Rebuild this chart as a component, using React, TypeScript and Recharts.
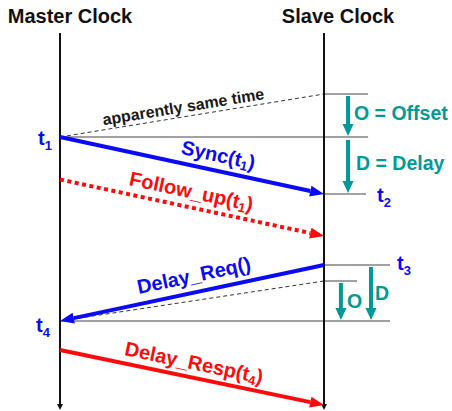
import { ComposedChart, XAxis, YAxis, ReferenceLine, ReferenceDot } from 'recharts';

// lanes (x) and time (y, arbitrary units, growing downwards)
const MASTER = 0;
const SLAVE = 1;
const LANE_DOMAIN: [number, number] = [-0.2273, 1.4848];
const TIME_DOMAIN: [number, number] = [0, 41.1];

const LANES = [MASTER, SLAVE];
const LANE_TITLES = ['Master Clock', 'Slave Clock'];
const LIFELINE_START = 3.3;
const LIFELINE_END = 41.0;

// PTP messages
const MSG_NAMES = ['Sync', 'Follow_up', 'Delay_Req', 'Delay_Resp'];
const MSG_ARG = ['1', '1', '', '4'];
const MSG_FROM = [MASTER, MASTER, SLAVE, MASTER];
const MSG_TO = [SLAVE, SLAVE, MASTER, SLAVE];
const MSG_SENT = [13.7, 17.95, 26.5, 35.0];
const MSG_RECEIVED = [19.4, 23.6, 32.1, 40.5];

// timestamps
const TS_INDEX = ['1', '2', '3', '4'];
const TS_LANE = [MASTER, SLAVE, SLAVE, MASTER];
const TS_TIME = [13.7, 19.4, 26.5, 32.1];

// thin horizontal rules
const RULE_TIME = [9.4, 13.7, 19.4, 26.5, 28.1, 32.1];
const RULE_FROM = [SLAVE, MASTER, SLAVE, SLAVE, SLAVE, MASTER];
const RULE_TO = [1.167, 1.167, 1.159, 1.25, 1.125, 1.25];

// "apparently same time" dashed lines
const APPARENT_FROM_LANE = [MASTER, SLAVE];
const APPARENT_FROM_TIME = [13.7, 28.1];
const APPARENT_TO_LANE = [SLAVE, MASTER];
const APPARENT_TO_TIME = [9.4, 32.1];
const APPARENT_LABEL = ['apparently same time', ''];

// offset / delay intervals
const INTERVAL_LABELS = ['O = Offset', 'D = Delay', 'O', 'D'];
const INTERVAL_LANE = [1.091, 1.091, 1.064, 1.178];
const INTERVAL_START = [9.6, 14.0, 28.3, 26.7];
const INTERVAL_END = [13.6, 19.3, 32.0, 32.0];

// styles
const FONT = "'Liberation Sans', Arial, Helvetica, sans-serif";
const BLUE = '#0a0af5';
const RED = '#ff0a0a';
const TEAL = '#009a96';
const MSG_COLOR = [BLUE, RED, BLUE, RED];
const MSG_DASH = ['', '4 3.5', '', ''];
const MSG_LABEL_AT = [0.587, 0.485, 0.52, 0.496];
const MSG_LABEL_OFFSET = [16, 16, 17, 15];
const TS_DX = [-8, 53, 73, -10];
const TS_DY = [8, 8, 5, 11];
const TS_ANCHOR = ['end', 'start', 'start', 'end'];
const TITLE_DX = [10, 14];
const INTERVAL_DX = [6, 8, 6, 4];
const INTERVAL_DY = [-3, -4, -1, -1];

function head(x1: number, y1: number, x2: number, y2: number, len: number, width: number) {
  const d = Math.hypot(x2 - x1, y2 - y1) || 1;
  const ux = (x2 - x1) / d;
  const uy = (y2 - y1) / d;
  const bx = x2 - ux * len;
  const by = y2 - uy * len;
  const px = -uy * width / 2;
  const py = ux * width / 2;
  return {
    bx,
    by,
    points: `${x2},${y2} ${bx + px},${by + py} ${bx - px},${by - py}`,
  };
}

function Arrow(props: any) {
  const { x1, y1, x2, y2, color, width, headLen, headWidth, dash } = props;
  const h = head(x1, y1, x2, y2, headLen, headWidth);
  return (
    <g>
      <line x1={x1} y1={y1} x2={h.bx} y2={h.by} stroke={color} strokeWidth={width} strokeDasharray={dash || undefined} />
      <polygon points={h.points} fill={color} />
    </g>
  );
}

function Label({ name, arg }: { name: string; arg: string }) {
  if (!arg) return <>{name}()</>;
  return (
    <>
      {name}(t
      <tspan dy={5} fontSize="0.65em">{arg}</tspan>
      <tspan dy={-5}>)</tspan>
    </>
  );
}

function MessageShape(props: any) {
  const { x1, y1, x2, y2, i } = props;
  const lx1 = MSG_FROM[i] === MASTER ? x1 : x2;
  const ly1 = MSG_FROM[i] === MASTER ? y1 : y2;
  const lx2 = MSG_FROM[i] === MASTER ? x2 : x1;
  const ly2 = MSG_FROM[i] === MASTER ? y2 : y1;
  const dx = lx2 - lx1;
  const dy = ly2 - ly1;
  const d = Math.hypot(dx, dy) || 1;
  const t = MSG_LABEL_AT[i];
  const off = MSG_LABEL_OFFSET[i];
  const nx = dy / d;
  const ny = -dx / d;
  const cx = lx1 + dx * t + nx * off;
  const cy = ly1 + dy * t + ny * off;
  const angle = (Math.atan2(dy, dx) * 180) / Math.PI;
  return (
    <g>
      <Arrow x1={x1} y1={y1} x2={x2} y2={y2} color={MSG_COLOR[i]} width={4} headLen={14} headWidth={11} dash={MSG_DASH[i]} />
      <text
        x={cx}
        y={cy}
        transform={`rotate(${angle} ${cx} ${cy})`}
        textAnchor="middle"
        dominantBaseline="central"
        fill={MSG_COLOR[i]}
        fontFamily={FONT}
        fontWeight="bold"
        fontSize={20}
      >
        <Label name={MSG_NAMES[i]} arg={MSG_ARG[i]} />
      </text>
    </g>
  );
}

function ApparentShape(props: any) {
  const { x1, y1, x2, y2, i } = props;
  const lx1 = Math.min(x1, x2) === x1 ? x1 : x2;
  const ly1 = lx1 === x1 ? y1 : y2;
  const lx2 = lx1 === x1 ? x2 : x1;
  const ly2 = lx1 === x1 ? y2 : y1;
  const dx = lx2 - lx1;
  const dy = ly2 - ly1;
  const d = Math.hypot(dx, dy) || 1;
  const cx = lx1 + dx * 0.473 + (dy / d) * 10;
  const cy = ly1 + dy * 0.473 + (-dx / d) * 10;
  const angle = (Math.atan2(dy, dx) * 180) / Math.PI;
  return (
    <g>
      <line x1={x1} y1={y1} x2={x2} y2={y2} stroke="#333" strokeWidth={1} strokeDasharray="4 3" />
      {APPARENT_LABEL[i] && (
        <text
          x={cx}
          y={cy}
          transform={`rotate(${angle} ${cx} ${cy})`}
          textAnchor="middle"
          dominantBaseline="central"
          fill="#1a1a1a"
          fontFamily={FONT}
          fontWeight="bold"
          fontSize={16}
        >
          {APPARENT_LABEL[i]}
        </text>
      )}
    </g>
  );
}

function LifelineShape(props: any) {
  const { x1, y1, x2, y2, i } = props;
  return (
    <g>
      <Arrow x1={x1} y1={y1} x2={x2} y2={y2} color="#111" width={2} headLen={6} headWidth={6} />
      <text
        x={x1 + TITLE_DX[i]}
        y={Math.min(y1, y2) - 10}
        textAnchor="middle"
        fill="#111"
        fontFamily={FONT}
        fontWeight="bold"
        fontSize={20}
      >
        {LANE_TITLES[i]}
      </text>
    </g>
  );
}

function IntervalShape(props: any) {
  const { x1, y1, x2, y2, i } = props;
  return (
    <g>
      <Arrow x1={x1} y1={y1} x2={x2} y2={y2} color={TEAL} width={4} headLen={12} headWidth={11} />
      <text
        x={x1 + INTERVAL_DX[i]}
        y={(y1 + y2) / 2 + INTERVAL_DY[i]}
        dominantBaseline="central"
        fill={TEAL}
        fontFamily={FONT}
        fontWeight="bold"
        fontSize={19.5}
      >
        {INTERVAL_LABELS[i]}
      </text>
    </g>
  );
}

function StampShape(props: any) {
  const { cx, cy, i } = props;
  return (
    <text
      x={cx + TS_DX[i]}
      y={cy + TS_DY[i]}
      textAnchor={TS_ANCHOR[i]}
      fill={BLUE}
      fontFamily={FONT}
      fontWeight="bold"
      fontSize={20}
    >
      t<tspan dy={5} fontSize={13}>{TS_INDEX[i]}</tspan>
    </text>
  );
}

export default function App() {
  return (
    <div style={{ position: 'absolute', left: 0, top: 0, background: '#fff' }}>
      <ComposedChart width={452} height={411} margin={{ top: 0, right: 0, bottom: 0, left: 0 }}>
        <XAxis type="number" dataKey="x" domain={LANE_DOMAIN} allowDataOverflow hide />
        <YAxis type="number" dataKey="y" domain={TIME_DOMAIN} allowDataOverflow reversed hide />

        {RULE_TIME.map((t, i) => (
          <ReferenceLine
            key={`rule-${i}`}
            segment={[{ x: RULE_FROM[i], y: t }, { x: RULE_TO[i], y: t }]}
            stroke="#444"
            strokeWidth={1}
            ifOverflow="visible"
          />
        ))}

        {APPARENT_FROM_TIME.map((t, i) => (
          <ReferenceLine
            key={`app-${i}`}
            segment={[{ x: APPARENT_FROM_LANE[i], y: t }, { x: APPARENT_TO_LANE[i], y: APPARENT_TO_TIME[i] }]}
            ifOverflow="visible"
            shape={(p: any) => <ApparentShape {...p} i={i} />}
          />
        ))}

        {LANES.map((lane, i) => (
          <ReferenceLine
            key={`lane-${i}`}
            segment={[{ x: lane, y: LIFELINE_START }, { x: lane, y: LIFELINE_END }]}
            ifOverflow="visible"
            shape={(p: any) => <LifelineShape {...p} i={i} />}
          />
        ))}

        {MSG_NAMES.map((name, i) => (
          <ReferenceLine
            key={`msg-${name}`}
            segment={[{ x: MSG_FROM[i], y: MSG_SENT[i] }, { x: MSG_TO[i], y: MSG_RECEIVED[i] }]}
            ifOverflow="visible"
            shape={(p: any) => <MessageShape {...p} i={i} />}
          />
        ))}

        {INTERVAL_LABELS.map((label, i) => (
          <ReferenceLine
            key={`int-${i}`}
            segment={[{ x: INTERVAL_LANE[i], y: INTERVAL_START[i] }, { x: INTERVAL_LANE[i], y: INTERVAL_END[i] }]}
            ifOverflow="visible"
            shape={(p: any) => <IntervalShape {...p} i={i} />}
          />
        ))}

        {TS_INDEX.map((idx, i) => (
          <ReferenceDot
            key={`ts-${idx}`}
            x={TS_LANE[i]}
            y={TS_TIME[i]}
            r={0}
            ifOverflow="visible"
            shape={(p: any) => <StampShape {...p} i={i} />}
          />
        ))}
      </ComposedChart>
    </div>
  );
}
